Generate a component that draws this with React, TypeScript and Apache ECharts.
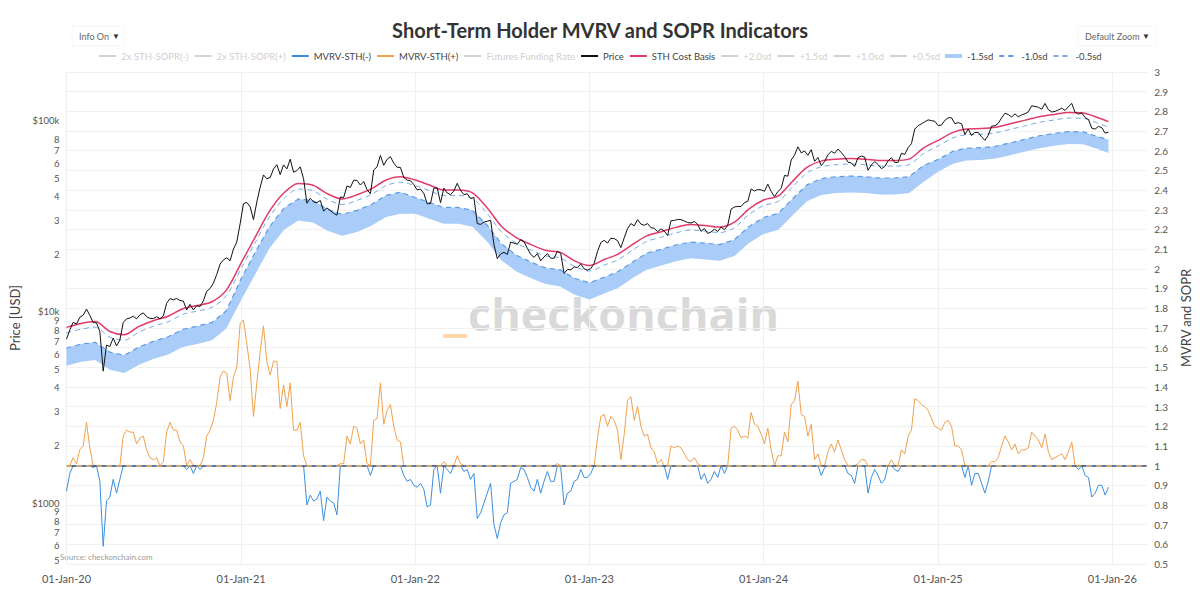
import React, { useEffect, useRef } from 'react';
import * as echarts from 'echarts';

// ---- weekly BTC price (USD), one array per year, sampled every 7 days ----
const PRICE_2020 = [7200, 8050, 8820, 8650, 9380, 9610, 10350, 9600, 8800, 8760, 7900, 4900, 6700, 6600, 7300, 6640, 7130, 8800, 9200, 9300, 9500, 9200, 9660, 9890, 9450, 9250, 9230, 9440, 9200, 9530, 11100, 11750, 11570, 11760, 11470, 11400, 10240, 10950, 10240, 10780, 10670, 11430, 12830, 13270, 14150, 15700, 17800, 18730, 19200, 18550, 21300, 23240, 28900];
const PRICE_2021 = [36800, 37400, 35500, 30400, 37600, 44900, 52100, 49700, 50500, 56000, 58900, 52300, 58800, 56000, 63000, 53800, 54900, 57400, 49700, 37000, 39300, 37600, 37300, 38300, 33700, 35000, 33900, 32800, 32100, 39900, 39700, 45600, 44800, 48900, 48800, 46100, 48100, 43600, 41500, 55300, 57400, 65900, 58500, 62900, 64900, 60000, 57100, 57000, 50600, 48900, 48600, 46400];
const PRICE_2022 = [43500, 43900, 41700, 36800, 36900, 44400, 44600, 37300, 44400, 41900, 41100, 42900, 47100, 43200, 41100, 41500, 39200, 39700, 29000, 28700, 29500, 29800, 30200, 22500, 19000, 20100, 20500, 20000, 23200, 22900, 22600, 23900, 23300, 21500, 20000, 19300, 20200, 18500, 19400, 20200, 19100, 19100, 20800, 20200, 15900, 16700, 16600, 17200, 17100, 17800, 16800, 16550];
const PRICE_2023 = [16850, 17950, 20700, 23050, 23700, 22950, 24300, 24200, 23600, 21700, 24400, 27300, 29000, 28200, 30400, 28800, 28400, 29000, 27600, 27400, 26300, 27200, 26500, 25100, 30000, 30100, 30500, 30400, 29900, 29350, 29200, 29750, 28700, 26400, 27300, 25750, 26200, 27100, 26350, 27800, 26900, 28400, 34500, 35400, 35650, 35600, 37300, 37900, 44000, 42900, 43700, 43500];
const PRICE_2024 = [42800, 46600, 42700, 40100, 42600, 44300, 51800, 51300, 62400, 66100, 73100, 67900, 69500, 66000, 70600, 61300, 64300, 58300, 61200, 66300, 69200, 67600, 71100, 68200, 64900, 60800, 60200, 57700, 64100, 65400, 64600, 55100, 58700, 61200, 59000, 56200, 57600, 61700, 64100, 60600, 60600, 67600, 66700, 72300, 75900, 90500, 94300, 96400, 98800, 101100, 100200, 99400];
const PRICE_2025 = [94400, 95000, 100500, 103700, 103700, 96600, 97800, 96600, 84700, 90600, 83700, 86900, 86900, 82500, 79000, 84000, 93700, 94200, 97000, 103500, 109600, 107800, 104700, 108700, 104900, 107300, 108900, 111300, 119800, 118800, 117800, 114900, 123300, 114300, 111200, 112000, 114000, 116400, 113300, 118600, 123300, 110700, 108400, 110000, 103900, 101600, 91500, 90500, 93500, 92000, 86200, 87300];

// ---- weekly short-term holder MVRV, same dates as the price ----
const MVRV_2020 = [0.87, 0.96, 1.04, 1.01, 1.08, 1.10, 1.22, 1.09, 0.99, 1.00, 0.92, 0.59, 0.82, 0.84, 0.93, 0.86, 0.93, 1.15, 1.18, 1.17, 1.17, 1.11, 1.14, 1.15, 1.08, 1.04, 1.03, 1.04, 1.00, 1.02, 1.17, 1.22, 1.18, 1.18, 1.12, 1.10, 0.98, 1.03, 0.96, 1.00, 0.98, 1.04, 1.15, 1.18, 1.23, 1.32, 1.45, 1.48, 1.47, 1.33, 1.45, 1.50, 1.72];
const MVRV_2021 = [1.74, 1.62, 1.49, 1.25, 1.42, 1.58, 1.71, 1.53, 1.46, 1.53, 1.53, 1.29, 1.41, 1.30, 1.42, 1.18, 1.18, 1.22, 1.05, 0.80, 0.85, 0.82, 0.83, 0.87, 0.72, 0.84, 0.82, 0.81, 0.75, 1.01, 1.01, 1.15, 1.11, 1.20, 1.19, 1.11, 1.13, 1.01, 0.95, 1.23, 1.24, 1.42, 1.21, 1.28, 1.31, 1.20, 1.13, 1.12, 0.95, 0.92, 0.93, 0.90];
const MVRV_2022 = [0.89, 0.91, 0.88, 0.79, 0.80, 0.98, 1.00, 0.86, 1.02, 0.98, 0.96, 1.00, 1.05, 1.01, 0.97, 0.98, 0.93, 0.96, 0.73, 0.76, 0.81, 0.86, 0.91, 0.70, 0.63, 0.71, 0.75, 0.76, 0.91, 0.92, 0.93, 0.99, 0.98, 0.94, 0.89, 0.87, 0.93, 0.86, 0.92, 0.97, 0.92, 0.92, 1.01, 0.99, 0.80, 0.86, 0.87, 0.92, 0.93, 0.98, 0.94, 0.94];
const MVRV_2023 = [0.96, 1.00, 1.14, 1.25, 1.26, 1.20, 1.25, 1.23, 1.18, 1.03, 1.16, 1.33, 1.35, 1.23, 1.30, 1.20, 1.15, 1.16, 1.09, 1.07, 1.01, 1.03, 1.00, 0.93, 1.10, 1.09, 1.10, 1.09, 1.06, 1.03, 1.02, 1.04, 1.01, 0.93, 0.96, 0.91, 0.93, 0.97, 0.94, 1.00, 0.96, 1.00, 1.19, 1.20, 1.18, 1.14, 1.15, 1.14, 1.27, 1.21, 1.20, 1.16];
const MVRV_2024 = [1.11, 1.19, 1.08, 1.00, 1.05, 1.05, 1.17, 1.12, 1.31, 1.33, 1.43, 1.26, 1.25, 1.15, 1.21, 1.03, 1.06, 0.95, 0.99, 1.07, 1.11, 1.07, 1.13, 1.08, 1.03, 0.96, 0.95, 0.91, 1.01, 1.03, 1.03, 0.86, 0.94, 0.98, 0.95, 0.91, 0.93, 1.00, 1.03, 0.98, 0.97, 1.08, 1.06, 1.15, 1.18, 1.34, 1.33, 1.31, 1.30, 1.28, 1.24, 1.20];
const MVRV_2025 = [1.19, 1.18, 1.22, 1.23, 1.20, 1.10, 1.10, 1.08, 0.94, 1.00, 0.90, 0.96, 0.96, 0.91, 0.86, 0.92, 1.02, 1.02, 1.04, 1.10, 1.15, 1.12, 1.08, 1.11, 1.06, 1.08, 1.08, 1.09, 1.17, 1.15, 1.13, 1.09, 1.16, 1.07, 1.03, 1.04, 1.05, 1.06, 1.03, 1.07, 1.12, 1.00, 0.98, 1.00, 0.95, 0.94, 0.84, 0.86, 0.90, 0.90, 0.85, 0.89];

// first sample date of each yearly block [year, monthIndex, day]
const WEEK_STARTS: [number, number, number][] = [
  [2020, 0, 1], [2021, 0, 6], [2022, 0, 5], [2023, 0, 4], [2024, 0, 3], [2025, 0, 1],
];
const PRICE_BY_YEAR = [PRICE_2020, PRICE_2021, PRICE_2022, PRICE_2023, PRICE_2024, PRICE_2025];
const MVRV_BY_YEAR = [MVRV_2020, MVRV_2021, MVRV_2022, MVRV_2023, MVRV_2024, MVRV_2025];

// ---- monthly (1st of month, 2020-01 .. 2025-12, plus 2025-12-24) cost basis and bands ----
const COST_BASIS = [
  8300, 8700, 8900, 7900, 7600, 8400, 9000, 9500, 10400, 10800, 11300, 13000,
  18000, 25000, 33500, 42000, 47000, 46000, 41500, 39000, 41000, 44000, 49000, 51000,
  49000, 46000, 43500, 43500, 42000, 35000, 28000, 24500, 22500, 21000, 20500, 18500,
  17500, 18800, 20000, 22500, 25000, 26300, 27700, 28700, 28300, 27800, 29500, 34500,
  38500, 40500, 48000, 57000, 61500, 63000, 63500, 63000, 62000, 62000, 63000, 72000,
  79000, 87000, 90500, 91000, 92500, 96500, 100500, 105000, 108000, 110500, 110000, 104000, 99000,
];
const SD_MINUS_05 = [
  7760, 8130, 8320, 7390, 7110, 7850, 8420, 8880, 9720, 10100, 10570, 12150,
  16830, 23380, 31320, 39270, 43950, 43010, 38800, 36470, 38340, 41140, 45820, 47690,
  45820, 43010, 40670, 40670, 39270, 32730, 26180, 22910, 21040, 19640, 19170, 17300,
  16360, 17580, 18700, 21040, 23380, 24590, 25900, 26830, 26460, 25990, 27580, 32260,
  36000, 37870, 44880, 53300, 57500, 58910, 59370, 58910, 57970, 57970, 58910, 67320,
  73870, 81350, 84620, 85090, 86490, 90230, 93970, 98180, 100980, 103320, 102850, 97240, 92570,
];
const SD_MINUS_10 = [
  6470, 6790, 6940, 6160, 5930, 6550, 7020, 7410, 8110, 8420, 8810, 10140,
  14900, 20750, 27800, 34900, 39000, 38200, 34400, 32400, 34000, 36500, 40700, 42300,
  39700, 37300, 35200, 35200, 34000, 28400, 22700, 19800, 18200, 17000, 16600, 15000,
  14200, 15200, 16200, 18200, 20300, 21300, 22400, 23200, 22900, 22500, 23900, 27900,
  31200, 32800, 38900, 46200, 49800, 51000, 51400, 51000, 50200, 50200, 51000, 58300,
  62800, 69200, 71900, 72300, 73500, 76700, 79900, 83500, 85900, 87800, 87500, 82700, 79500,
];
const SD_MINUS_15 = [
  5230, 5480, 5610, 4980, 4790, 5290, 5670, 5990, 6550, 6800, 7120, 8190,
  11500, 16000, 21400, 26900, 30100, 29400, 26600, 25000, 26200, 28200, 31400, 32600,
  32600, 30600, 28900, 28900, 27900, 23300, 18600, 16300, 15000, 14000, 13600, 12300,
  11600, 12500, 13300, 15000, 16600, 17500, 18400, 19100, 18800, 18500, 19600, 22900,
  25600, 26900, 31900, 37900, 40900, 41900, 42200, 41900, 41200, 41200, 41900, 47900,
  54100, 59600, 62000, 62300, 63400, 66100, 68800, 71900, 74000, 75700, 75400, 71200, 67800,
];

// ---- axis ticks ----
const YEAR_TICKS = [2020, 2021, 2022, 2023, 2024, 2025, 2026];
const PRICE_TICKS = [
  500, 600, 700, 800, 900,
  1000, 2000, 3000, 4000, 5000, 6000, 7000, 8000, 9000,
  10000, 20000, 30000, 40000, 50000, 60000, 70000, 80000, 90000,
  100000,
];

const LEGEND_ORDER = [
  '2x STH-SOPR(-)', '2x STH-SOPR(+)', 'MVRV-STH(-)', 'MVRV-STH(+)', 'Futures Funding Rate',
  'Price', 'STH Cost Basis', '+2.0sd', '+1.5sd', '+1.0sd', '+0.5sd', '-1.5sd', '-1.0sd', '-0.5sd',
];

const FONT = 'Lato, "Noto Sans", sans-serif';
const BAND_COLOR = '#a9cdf8';

function weeklySeries(blocks: number[][]): [number, number][] {
  const out: [number, number][] = [];
  blocks.forEach((values, b) => {
    const [y, m, d] = WEEK_STARTS[b];
    values.forEach((v, i) => out.push([new Date(y, m, d + 7 * i).getTime(), v]));
  });
  return out;
}

function monthlyDates(): number[] {
  const dates: number[] = [];
  for (let i = 0; i < 72; i++) dates.push(new Date(2020 + Math.floor(i / 12), i % 12, 1).getTime());
  dates.push(new Date(2025, 11, 24).getTime());
  return dates;
}

// keep the part of the MVRV curve on one side of 1, joining it to 1 at crossings
function splitAtOne(points: [number, number][], above: boolean): [number, number | null][] {
  const side = (v: number) => (above ? v >= 1 : v < 1);
  return points.map(([t, v], i) => {
    if (side(v)) return [t, v];
    const prev = points[i - 1];
    const next = points[i + 1];
    if ((prev && side(prev[1])) || (next && side(next[1]))) return [t, 1];
    return [t, null];
  });
}

function priceLabel(val: number): string {
  const v = Math.round(val);
  if (v === 1000) return '$1000';
  if (v === 10000) return '$10k';
  if (v === 100000) return '$100k';
  const p = Math.pow(10, Math.floor(Math.log10(v) + 1e-9));
  return String(Math.round(v / p));
}

export default function App() {
  const ref = useRef<HTMLDivElement>(null);

  useEffect(() => {
    if (!ref.current) return;
    const chart = echarts.init(ref.current, undefined, { renderer: 'svg' });

    const price = weeklySeries(PRICE_BY_YEAR);
    const mvrv = weeklySeries(MVRV_BY_YEAR);
    const months = monthlyDates();
    const pair = (arr: number[]) => arr.map((v, i) => [months[i], v]);
    const bandData = months.map((t, i) => [t, SD_MINUS_10[i], SD_MINUS_15[i]]);
    const yearTicks = YEAR_TICKS.map((y) => new Date(y, 0, 1).getTime());

    const lineBase = { type: 'line', showSymbol: false, symbol: 'none', animation: false };

    const option: any = {
      animation: false,
      backgroundColor: '#ffffff',
      textStyle: { fontFamily: FONT },
      title: {
        text: 'Short-Term Holder MVRV and SOPR Indicators',
        left: 'center',
        top: 15,
        textStyle: { fontFamily: FONT, fontSize: 20, fontWeight: 'bold', color: '#333333' },
      },
      legend: {
        top: 51,
        left: 'center',
        itemWidth: 17,
        itemHeight: 10,
        itemGap: 5,
        padding: 0,
        textStyle: { fontFamily: FONT, fontSize: 9.5, color: '#444444' },
        itemStyle: { opacity: 0 },
        inactiveColor: '#cfcfcf',
        selected: {
          '2x STH-SOPR(-)': false,
          '2x STH-SOPR(+)': false,
          'Futures Funding Rate': false,
          '+2.0sd': false,
          '+1.5sd': false,
          '+1.0sd': false,
          '+0.5sd': false,
        },
        data: LEGEND_ORDER.map((name) =>
          name === '-1.5sd'
            ? {
                name,
                icon: 'path://M0,0 M17,10 M0,3 L17,3 L17,7 L0,7 Z',
                itemStyle: { color: BAND_COLOR, opacity: 1 },
              }
            : { name }
        ),
      },
      grid: { left: 55, right: 45, top: 72, bottom: 39, containLabel: false },
      xAxis: {
        type: 'value',
        min: new Date(2020, 0, 1).getTime(),
        max: new Date(2026, 2, 15).getTime(),
        axisLine: { show: false },
        axisTick: { show: false, customValues: yearTicks },
        splitLine: { show: true, lineStyle: { color: '#efefef', width: 1 } },
        axisLabel: {
          customValues: yearTicks,
          color: '#555555',
          fontSize: 11,
          margin: 9,
          formatter: (val: number) => '01-Jan-' + String(new Date(val).getFullYear()).slice(2),
        },
      },
      yAxis: [
        {
          type: 'log',
          logBase: 10,
          min: 480,
          max: 180000,
          position: 'left',
          name: 'Price [USD]',
          nameLocation: 'middle',
          nameGap: 36,
          nameRotate: 90,
          nameTextStyle: { fontFamily: FONT, fontSize: 13, color: '#444444' },
          axisLine: { show: false },
          axisTick: { show: false, customValues: PRICE_TICKS },
          splitLine: { show: false },
          axisLabel: {
            customValues: PRICE_TICKS,
            showMinLabel: true,
            showMaxLabel: true,
            color: '#555555',
            fontSize: 9.5,
            lineHeight: 8,
            margin: 7,
            formatter: priceLabel,
          },
        },
        {
          type: 'value',
          min: 0.5,
          max: 3,
          interval: 0.1,
          position: 'right',
          name: 'MVRV and SOPR',
          nameLocation: 'middle',
          nameGap: 30,
          nameRotate: 90,
          nameTextStyle: { fontFamily: FONT, fontSize: 13, color: '#444444' },
          axisLine: { show: false },
          axisTick: { show: false },
          splitLine: { show: true, lineStyle: { color: '#f1f1f1', width: 1 } },
          axisLabel: {
            color: '#555555',
            fontSize: 10,
            margin: 7,
            formatter: (v: number) => String(Math.round(v * 10) / 10),
          },
        },
      ],
      graphic: [
        {
          type: 'text',
          x: 468,
          y: 313,
          silent: true,
          style: {
            text: 'checkonchain',
            fontFamily: '"Open Sans", sans-serif',
            fontWeight: 'bold',
            fontSize: 45,
            fill: 'rgba(205,205,205,0.75)',
            verticalAlign: 'middle',
          },
        },
        {
          type: 'rect',
          silent: true,
          shape: { x: 443, y: 334, width: 24, height: 4 },
          style: { fill: '#fdd9a8' },
        },
        {
          type: 'rect',
          shape: { x: 72, y: 26, width: 52, height: 20 },
          style: { fill: '#ffffff', stroke: '#f6f6f6', lineWidth: 1 },
        },
        {
          type: 'text',
          x: 79,
          y: 36,
          style: { text: 'Info On', fontFamily: FONT, fontSize: 9, fill: '#666666', verticalAlign: 'middle' },
        },
        {
          type: 'text',
          x: 112,
          y: 36,
          style: { text: '▼', fontSize: 8, fill: '#333333', verticalAlign: 'middle' },
        },
        {
          type: 'rect',
          shape: { x: 1078, y: 26, width: 78, height: 20 },
          style: { fill: '#ffffff', stroke: '#f6f6f6', lineWidth: 1 },
        },
        {
          type: 'text',
          x: 1085,
          y: 36,
          style: { text: 'Default Zoom', fontFamily: FONT, fontSize: 9, fill: '#666666', verticalAlign: 'middle' },
        },
        {
          type: 'text',
          x: 1142,
          y: 36,
          style: { text: '▼', fontSize: 8, fill: '#333333', verticalAlign: 'middle' },
        },
        {
          type: 'text',
          x: 60,
          y: 557,
          style: {
            text: 'Source: checkonchain.com',
            fontFamily: FONT,
            fontSize: 8,
            fill: '#9a9a9a',
            verticalAlign: 'middle',
          },
        },
      ],
      series: [
        { ...lineBase, name: '2x STH-SOPR(-)', yAxisIndex: 1, data: [], color: '#f4a9bb', lineStyle: { width: 1 } },
        { ...lineBase, name: '2x STH-SOPR(+)', yAxisIndex: 1, data: [], color: '#9fdccf', lineStyle: { width: 1 } },
        { ...lineBase, name: 'Futures Funding Rate', yAxisIndex: 1, data: [], color: '#fddcb5', lineStyle: { width: 4 } },
        { ...lineBase, name: '+2.0sd', yAxisIndex: 0, data: [], color: '#fbdcb4', lineStyle: { width: 4 } },
        { ...lineBase, name: '+1.5sd', yAxisIndex: 0, data: [], color: '#f3c590', lineStyle: { width: 1, type: [4, 3] } },
        { ...lineBase, name: '+1.0sd', yAxisIndex: 0, data: [], color: '#f3c590', lineStyle: { width: 1, type: [4, 3] } },
        { ...lineBase, name: '+0.5sd', yAxisIndex: 0, data: [], color: '#f3c590', lineStyle: { width: 1, type: [4, 3] } },
        {
          // shaded band between the -1.0sd and -1.5sd levels
          type: 'custom',
          name: '-1.5sd',
          xAxisIndex: 0,
          yAxisIndex: 0,
          silent: true,
          color: BAND_COLOR,
          data: bandData,
          encode: { x: 0, y: [1, 2] },
          renderItem: (params: any, api: any) => {
            if (params.dataIndex !== 0) return null;
            const upper = bandData.map((d) => api.coord([d[0], d[1]]));
            const lower = bandData.map((d) => api.coord([d[0], d[2]])).reverse();
            return {
              type: 'polygon',
              shape: { points: upper.concat(lower) },
              style: { fill: BAND_COLOR, stroke: 'none' },
            };
          },
        },
        {
          ...lineBase,
          name: '-1.0sd',
          yAxisIndex: 0,
          data: pair(SD_MINUS_10),
          color: '#5b9be8',
          lineStyle: { width: 1.2, type: [5, 4] },
        },
        {
          ...lineBase,
          name: '-0.5sd',
          yAxisIndex: 0,
          smooth: 0.3,
          data: pair(SD_MINUS_05),
          color: '#74aaec',
          lineStyle: { width: 1, type: [5, 4] },
        },
        {
          ...lineBase,
          name: 'STH Cost Basis',
          yAxisIndex: 0,
          smooth: 0.3,
          data: pair(COST_BASIS),
          color: '#e23a6a',
          lineStyle: { width: 1.5 },
        },
        {
          ...lineBase,
          name: 'Price',
          yAxisIndex: 0,
          data: price,
          color: '#111111',
          lineStyle: { width: 1 },
        },
        {
          ...lineBase,
          name: 'MVRV-STH(+)',
          yAxisIndex: 1,
          data: splitAtOne(mvrv, true),
          color: '#f2a14c',
          lineStyle: { width: 1 },
          markLine: {
            silent: true,
            symbol: ['none', 'none'],
            label: { show: false },
            lineStyle: { color: '#c98a3c', width: 1.5, type: [5, 5], dashOffset: 0 },
            data: [{ yAxis: 1 }],
          },
        },
        {
          ...lineBase,
          name: 'MVRV-STH(-)',
          yAxisIndex: 1,
          data: splitAtOne(mvrv, false),
          color: '#3b8ee0',
          lineStyle: { width: 1 },
          markLine: {
            silent: true,
            symbol: ['none', 'none'],
            label: { show: false },
            lineStyle: { color: '#2d4f86', width: 1.5, type: [5, 5], dashOffset: 5 },
            data: [{ yAxis: 1 }],
          },
        },
      ],
    };

    chart.setOption(option);
    return () => chart.dispose();
  }, []);

  return (
    <div
      ref={ref}
      style={{ position: 'fixed', left: 0, top: 0, width: 1200, height: 603, background: '#ffffff' }}
    />
  );
}
